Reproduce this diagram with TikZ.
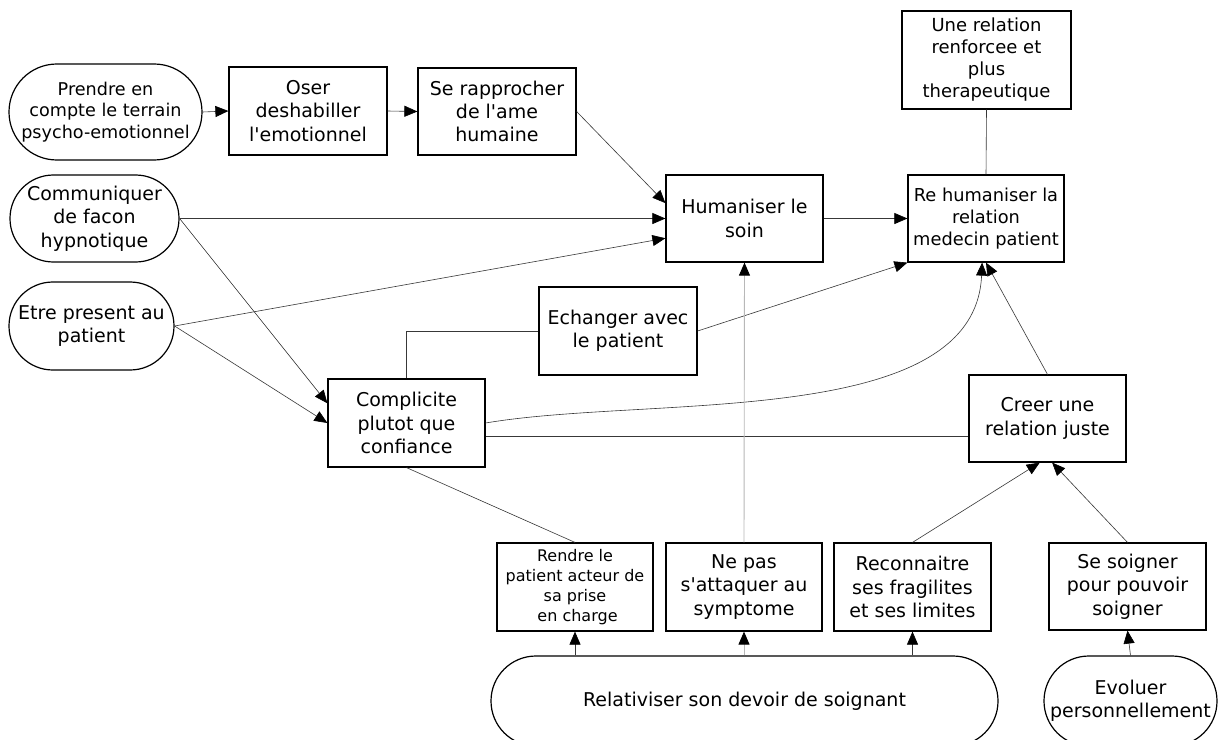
\documentclass[tikz,border=0pt]{standalone}
\usepackage{fontspec}
\setmainfont{DejaVu Sans}
\usetikzlibrary{arrows.meta,calc}
\newcommand\fsz[2]{\fontsize{#1}{#2}\selectfont}
\begin{document}
\begin{tikzpicture}[x=1pt,y=-1pt,
  box/.style={draw=black,line width=1.2pt,inner sep=0pt,align=center,font=\fsz{19}{23.3}},
  stad/.style={box},
  conn/.style={draw=black!78,line width=0.6pt},
  arr/.style={conn,-{Triangle[length=13pt,width=11pt,color=black]}},
  grayarr/.style={draw=black!28,line width=0.9pt,-{Triangle[length=13pt,width=11pt,color=black]}}
]
\useasboundingbox (0,0) rectangle (1218,739);
\clip (0,0) rectangle (1218,739);
\fill[white] (0,0) rectangle (1218,739);

% nodes
\node[stad,minimum width=193pt,minimum height=96pt,rounded corners=47.9pt,font=\fsz{17.6}{21.7}] (prendre) at (105.5,112) {Prendre en\\compte le terrain\\psycho-emotionnel};
\node[box,minimum width=158pt,minimum height=88pt] (oser) at (308,111) {Oser\\deshabiller\\l\textquotesingle emotionnel};
\node[box,minimum width=158pt,minimum height=87pt] (rapp) at (497,111.5) {Se rapprocher\\de l\textquotesingle ame\\humaine};
\node[box,minimum width=169pt,minimum height=98pt,font=\fsz{18}{22}] (une) at (986.5,60) {Une relation\\renforcee et\\plus\\therapeutique};
\node[stad,minimum width=169pt,minimum height=87pt,rounded corners=43.4pt] (comm) at (94.5,218.5) {Communiquer\\de facon\\hypnotique};
\node[box,minimum width=157pt,minimum height=87pt] (hum) at (744.5,218.5) {Humaniser le\\soin};
\node[box,minimum width=156pt,minimum height=87pt,font=\fsz{17.8}{21.7}] (rehum) at (986,218.5) {Re humaniser la\\relation\\medecin patient};
\node[stad,minimum width=165pt,minimum height=88pt,rounded corners=43.9pt] (etre) at (91.5,326) {Etre present au\\patient};
\node[box,minimum width=158pt,minimum height=88pt] (ech) at (618,331) {Echanger avec\\le patient};
\node[box,minimum width=157pt,minimum height=88pt] (comp) at (406.5,423) {Complicite\\plutot que\\confiance};
\node[box,minimum width=157pt,minimum height=87pt] (creer) at (1047.5,418.5) {Creer une\\relation juste};
\node[box,minimum width=156pt,minimum height=88pt,font=\fsz{16}{20}] (rendre) at (575,587) {Rendre le\\patient acteur de\\sa prise\\\ en charge};
\node[box,minimum width=156pt,minimum height=88pt] (nepas) at (744,587) {Ne pas\\s\textquotesingle attaquer au\\symptome};
\node[box,minimum width=157pt,minimum height=88pt] (reco) at (912.5,587) {Reconnaitre\\ses fragilites\\et ses limites};
\node[box,minimum width=157pt,minimum height=87pt] (soig) at (1127.5,586.5) {Se soigner\\pour pouvoir\\soigner};
\node[stad,minimum width=507pt,minimum height=90pt,rounded corners=44.9pt] (rel) at (744.5,701) {Relativiser son devoir de soignant};
\node[stad,minimum width=173pt,minimum height=90pt,rounded corners=44.9pt] (evol) at (1130.5,701) {Evoluer\\personnellement};

% connectors
\draw[arr] (prendre.east) -- (oser.west);
\draw[arr] (oser.east) -- (rapp.west);
\draw[arr] (rapp.east) -- (hum.169);
\draw[arr] (comm.east) -- (hum.west);
\draw[arr] (etre.east) -- (hum.194);
\draw[arr] (comm.east) -- (comp.166);
\draw[arr] (etre.east) -- (comp.west);
\draw[arr] (hum.east) -- (rehum.west);
\draw[conn] (une.south) -- (rehum.north);
\draw[arr] (ech.east) -- (rehum.south west);
\draw[conn] (comp.north) |- (ech.west);
\draw[arr] (comp.east) .. controls (650,395) and (975,430) .. (rehum.-95);
\draw[conn] ([yshift=-13pt]comp.east) coordinate (hz) -- (hz -| creer.west);
\draw[arr] (creer.north) -- (rehum.south);
\draw[conn] (rendre.north) -- (comp.south);
\draw[grayarr] (nepas.north) -- (hum.south);
\draw[arr] (reco.north) -- (creer.-100);
\draw[arr] (soig.north) -- (creer.-84);
\draw[arr] (rendre.south |- rel.north) -- (rendre.south);
\draw[grayarr] (nepas.south |- rel.north) -- (nepas.south);
\draw[arr] (reco.south |- rel.north) -- (reco.south);
\draw[arr] (evol.north) -- (soig.south);
\end{tikzpicture}
\end{document}
